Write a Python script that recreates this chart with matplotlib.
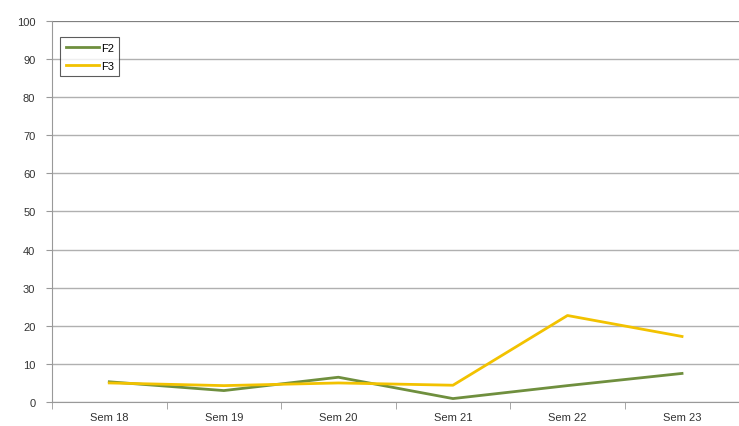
import matplotlib
matplotlib.use("Agg")
import matplotlib.pyplot as plt
import numpy as np

weeks = ["Sem 18", "Sem 19", "Sem 20", "Sem 21", "Sem 22", "Sem 23"]
f2 = [5.3, 3.0, 6.5, 0.9, 4.3, 7.5]
f3 = [5.0, 4.3, 5.0, 4.4, 22.7, 17.2]
y_ticks = [0, 10, 20, 30, 40, 50, 60, 70, 80, 90, 100]


def main():
    plt.rcParams['font.family'] = ['Liberation Sans', 'DejaVu Sans']
    fig = plt.figure(figsize=(7.39, 4.27), dpi=100)
    ax = fig.add_axes([0.0704, 0.0562, 0.93, 0.8923])
    x = np.arange(len(weeks))
    ax.plot(x, f2, color="#6f8f3e", linewidth=2.0, label="F2")
    ax.plot(x, f3, color="#f2c200", linewidth=2.0, label="F3")

    ax.set_xlim(-0.5, len(weeks) - 0.5)
    ax.set_ylim(0, 100)
    ax.set_yticks(y_ticks)
    ax.set_xticks(x)
    ax.set_xticklabels(weeks)
    ax.set_xticks(np.arange(len(weeks) + 1) - 0.5, minor=True)
    ax.tick_params(axis="x", which="major", length=0, pad=7,
                   labelsize=8, labelcolor="#333333")
    ax.tick_params(axis="x", which="minor", length=5, color="#999999")
    ax.tick_params(axis="y", length=4, color="#999999", labelsize=8,
                   labelcolor="#333333", pad=8)
    ax.yaxis.grid(True, color="#b0b0b0", linewidth=1.0)
    ax.set_axisbelow(True)
    for side in ["top", "right"]:
        ax.spines[side].set_visible(False)
    ax.spines["left"].set_color("#999999")
    ax.spines["bottom"].set_color("#999999")
    ax.axhline(100, color="#777777", linewidth=1.2)

    leg = ax.legend(loc="upper left", bbox_to_anchor=(0.012, 0.958),
                    fontsize=8, frameon=True, fancybox=False,
                    handlelength=3.0, handletextpad=0.15,
                    borderpad=0.5, labelspacing=0.75, borderaxespad=0)
    leg.get_frame().set_edgecolor("#333333")
    leg.get_frame().set_linewidth(0.8)

    fig.savefig("out.png", dpi=100)
    return


if __name__ == "__main__":
    main()
